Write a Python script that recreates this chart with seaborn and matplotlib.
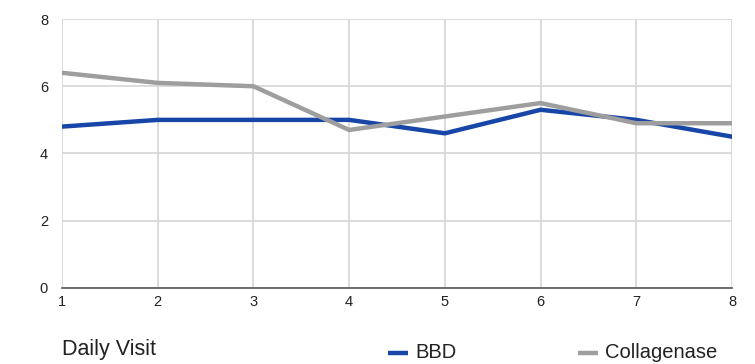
import pandas as pd
import matplotlib
matplotlib.use('Agg')
import matplotlib.pyplot as plt
import seaborn as sns

# Data
days = [1, 2, 3, 4, 5, 6, 7, 8]
bbd = [4.8, 5.0, 5.0, 5.0, 4.6, 5.3, 5.0, 4.5]
collagenase = [6.4, 6.1, 6.0, 4.7, 5.1, 5.5, 4.9, 4.9]
series_names = ['BBD', 'Collagenase']
series_colors = ['#1746a8', '#9e9e9e']

df = pd.DataFrame({'Day': days * 2,
                   'Value': bbd + collagenase,
                   'Series': ['BBD'] * len(days) + ['Collagenase'] * len(days)})

sns.set_style('white')
plt.rcParams['font.family'] = ['Liberation Sans', 'DejaVu Sans']

fig = plt.figure(figsize=(7.55, 3.64), dpi=100)
ax = fig.add_axes([0.0821, 0.2088, 0.8874, 0.739])

sns.lineplot(data=df, x='Day', y='Value', hue='Series', palette=series_colors,
             hue_order=series_names, linewidth=3.2, ax=ax, legend=False, zorder=3)

ax.set_xlim(1, 8)
ax.set_ylim(0, 8)
ax.set_xticks(days)
ax.set_yticks([0, 2, 4, 6, 8])
ax.grid(True, color='#d9d9d9', linewidth=1.3)
ax.set_axisbelow(True)
for s in ['top', 'right', 'left']:
    ax.spines[s].set_visible(False)
ax.spines['bottom'].set_color('#555555')
ax.spines['bottom'].set_linewidth(1.2)
ax.spines['bottom'].set_zorder(4)
ax.tick_params(axis='both', length=0, labelsize=10.5, colors='#222222')
ax.tick_params(axis='y', pad=10)
ax.tick_params(axis='x', pad=5)
ax.set_xlabel('')
ax.set_ylabel('')

fig.text(62 / 755, 1 - 350 / 364, 'Daily Visit', fontsize=15.5, color='#222222', va='center')

# Legend
for name, color, x0 in zip(series_names, series_colors, [388, 578]):
    fig.add_artist(plt.Line2D([x0 / 755, (x0 + 20) / 755], [1 - 353 / 364] * 2,
                              color=color, linewidth=3.2, solid_capstyle='butt',
                              transform=fig.transFigure))
    fig.text((x0 + 27) / 755, 1 - 353 / 364, name, fontsize=14.5, color='#222222', va='center')

fig.savefig('out.png', dpi=100)
